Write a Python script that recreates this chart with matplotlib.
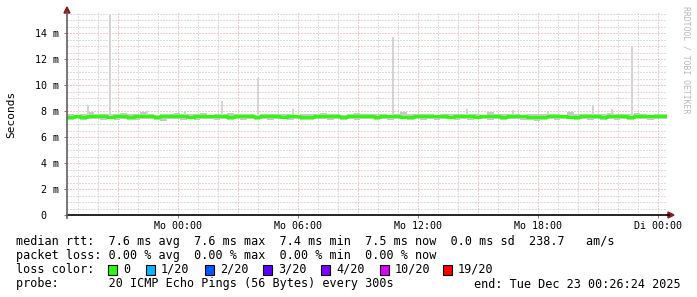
"""
SmokePing style latency graph (last 30 hours)
"""
import numpy as np
import matplotlib
matplotlib.use("Agg")
import matplotlib.pyplot as plt
from matplotlib.patches import Rectangle, Polygon

# time axis in hours relative to Mo 00:00 (Dec 22 2025)
t_start = -5.56
t_end = 24.44
step_h = 1 / 3  # 20 minute buckets

# median rtt per bucket (ms)
median = [7.58, 7.60, 7.57, 7.59, 7.62, 7.60, 7.58, 7.61, 7.59, 7.57,
          7.60, 7.62, 7.59, 7.58, 7.61, 7.60, 7.63, 7.59, 7.57, 7.60,
          7.62, 7.61, 7.59, 7.60, 7.58, 7.61, 7.63, 7.60, 7.58, 7.59,
          7.62, 7.60, 7.57, 7.59, 7.61, 7.58, 7.56, 7.60, 7.62, 7.59,
          7.61, 7.58, 7.60, 7.63, 7.61, 7.59, 7.57, 7.60, 7.62, 7.60,
          7.58, 7.56, 7.59, 7.61, 7.60, 7.62, 7.59, 7.57, 7.60, 7.61,
          7.59, 7.58, 7.60, 7.62, 7.60, 7.57, 7.59, 7.61, 7.60, 7.58,
          7.56, 7.58, 7.60, 7.59, 7.61, 7.58, 7.57, 7.60, 7.62, 7.59,
          7.58, 7.60, 7.61, 7.59, 7.57, 7.60, 7.62, 7.61, 7.59, 7.60]

# smoke envelope per bucket (ms)
smoke_hi = [7.80, 7.74, 7.78, 7.95, 7.76, 7.82, 7.75, 7.79, 7.84, 7.77,
            7.75, 7.92, 7.78, 7.74, 7.80, 7.76, 7.83, 7.75, 7.79, 7.77,
            7.85, 7.74, 7.78, 7.76, 7.88, 7.75, 7.81, 7.77, 7.74, 7.79,
            7.76, 7.82, 7.75, 7.78, 7.74, 7.80, 7.77, 7.76, 7.83, 7.75,
            7.78, 7.74, 7.79, 7.86, 7.76, 7.75, 7.80, 7.77, 7.74, 7.78,
            7.92, 7.76, 7.75, 7.79, 7.77, 7.74, 7.81, 7.76, 7.78, 7.75,
            7.80, 7.77, 7.74, 7.90, 7.76, 7.78, 7.75, 7.79, 7.74, 7.77,
            7.76, 7.82, 7.75, 7.78, 7.74, 7.95, 7.77, 7.76, 7.80, 7.75,
            7.78, 7.84, 7.76, 7.75, 7.79, 7.88, 7.77, 7.74, 7.80, 7.76]
smoke_lo = [7.32, 7.38, 7.30, 7.36, 7.40, 7.33, 7.37, 7.31, 7.38, 7.34,
            7.32, 7.37, 7.40, 7.33, 7.28, 7.36, 7.38, 7.32, 7.37, 7.33,
            7.40, 7.36, 7.31, 7.37, 7.33, 7.38, 7.32, 7.36, 7.30, 7.37,
            7.33, 7.40, 7.36, 7.32, 7.38, 7.33, 7.29, 7.37, 7.36, 7.32,
            7.38, 7.33, 7.37, 7.31, 7.36, 7.40, 7.32, 7.37, 7.33, 7.38,
            7.36, 7.30, 7.37, 7.33, 7.38, 7.32, 7.36, 7.40, 7.33, 7.37,
            7.31, 7.36, 7.38, 7.33, 7.37, 7.32, 7.40, 7.36, 7.33, 7.30,
            7.28, 7.33, 7.37, 7.32, 7.36, 7.38, 7.31, 7.37, 7.33, 7.36,
            7.32, 7.38, 7.33, 7.37, 7.31, 7.36, 7.38, 7.33, 7.37, 7.36]

# single ping outliers: time (h), top (ms)
spike_t = [-4.5, -3.4, -1.55, 0.35, 2.2, 4.0, 5.75, 10.75, 14.45, 16.75,
           18.5, 20.75, 21.7, 22.7]
spike_top = [8.46, 15.38, 7.98, 8.05, 8.77, 10.56, 8.2, 13.7, 8.15, 8.1,
             8.0, 8.5, 8.15, 13.0]

yticks = [0, 2, 4, 6, 8, 10, 12, 14]
ytick_labels = ["0  ", "2 m", "4 m", "6 m", "8 m", "10 m", "12 m", "14 m"]
xticks = [0, 6, 12, 18, 24]
xtick_labels = ["Mo 00:00", "Mo 06:00", "Mo 12:00", "Mo 18:00", "Di 00:00"]

loss_labels = ["0", "1/20", "2/20", "3/20", "4/20", "10/20", "19/20"]
loss_colors = ["#26ff00", "#00b8ff", "#0059ff", "#5e00ff", "#7e00ff",
               "#dd00ff", "#ff0000"]

mono = "DejaVu Sans Mono"
W, H = 697, 297

fig = plt.figure(figsize=(W / 100, H / 100), dpi=100)
fig.patch.set_facecolor("white")
ax = fig.add_axes([67 / W, 1 - 215 / H, 600 / W, (215 - 12.5) / H])
ax.set_facecolor("white")

ymax = (215 - 12.5) / (181.7 / 14)
ax.set_xlim(t_start, t_end)
ax.set_ylim(0, ymax)

# grid
for x in np.arange(-5, 25, 1):
    col = "#dc9a9a" if x % 3 == 0 else "#bcbcbc"
    ax.axvline(x, color=col, lw=0.72, dashes=(1, 2), zorder=1)
for y in np.arange(0.5, ymax, 0.5):
    col = "#dc9a9a" if y % 2 == 0 else "#bcbcbc"
    ax.axhline(y, color=col, lw=0.72, dashes=(1, 2), zorder=1)

# smoke
n = len(median)
edges = t_start + step_h * np.arange(n + 1)
ax.fill_between(edges, smoke_lo + [smoke_lo[-1]], smoke_hi + [smoke_hi[-1]],
                step="post", color="#c8c8c8", lw=0, zorder=2)
ax.bar(spike_t, np.array(spike_top) - 7.6, bottom=7.6, width=5 / 60,
       color="#d4d4d4", lw=0, zorder=2)

# median line
ax.step(edges, median + [median[-1]], where="post", color="#26ff00",
        lw=2.2, zorder=3)

# axes
for s in ax.spines.values():
    s.set_visible(False)
ax.set_yticks(yticks)
ax.set_yticklabels(ytick_labels, family=mono, fontsize=7.2)
ax.set_xticks(xticks)
ax.set_xticklabels(xtick_labels, family=mono, fontsize=7.2)
ax.tick_params(axis="y", which="major", length=2, width=0.7, color="#808080",
               pad=3.5)
ax.tick_params(axis="x", which="major", length=2, width=0.7, color="#808080",
               pad=2.5)

fig.add_artist(plt.Line2D([67 / W, 669 / W], [1 - 215 / H, 1 - 215 / H],
                          color="black", lw=1.2, transform=fig.transFigure))
fig.add_artist(plt.Line2D([67 / W, 67 / W], [1 - 218 / H, 1 - 12 / H],
                          color="#606060", lw=1.2, transform=fig.transFigure))
fig.add_artist(Polygon([[668 / W, 1 - 212 / H], [668 / W, 1 - 218 / H],
                        [674 / W, 1 - 215 / H]], closed=True,
                       color="#8b1a1a", transform=fig.transFigure))
fig.add_artist(Polygon([[64 / W, 1 - 13 / H], [70 / W, 1 - 13 / H],
                        [67 / W, 1 - 7 / H]], closed=True,
                       color="#8b1a1a", transform=fig.transFigure))

fig.text(11 / W, 1 - 114 / H, "Seconds", rotation=90, family=mono,
         fontsize=8, ha="center", va="center")
fig.text(686 / W, 1 - 60 / H, "RRDTOOL / TOBI OETIKER", rotation=270,
         family=mono, fontsize=5.9, ha="center", va="center", color="#b8b8b8")

# legend block
fs = 8.5
fig.text(16 / W, 1 - 241 / H,
         "median rtt:  7.6 ms avg  7.6 ms max  7.4 ms min  7.5 ms now  "
         "0.0 ms sd  238.7   am/s", family=mono, fontsize=fs, va="center")
fig.text(16 / W, 1 - 256 / H,
         "packet loss: 0.00 % avg  0.00 % max  0.00 % min  0.00 % now",
         family=mono, fontsize=fs, va="center")
fig.text(16 / W, 1 - 269.5 / H, "loss color:", family=mono, fontsize=fs,
         va="center")
box_x = [108, 146, 205, 263, 321, 380, 443]
for bx, lab, col in zip(box_x, loss_labels, loss_colors):
    fig.add_artist(Rectangle((bx / W, 1 - 274.5 / H), 9 / W, 10 / H,
                             facecolor=col, edgecolor="black", lw=0.8,
                             transform=fig.transFigure))
    fig.text((bx + 15) / W, 1 - 269.5 / H, lab, family=mono, fontsize=fs,
             va="center")
fig.text(16 / W, 1 - 284 / H,
         "probe:       20 ICMP Echo Pings (56 Bytes) every 300s",
         family=mono, fontsize=fs, va="center")
fig.text(681 / W, 1 - 284 / H, "end: Tue Dec 23 00:26:24 2025",
         family=mono, fontsize=fs, va="center", ha="right")

plt.savefig("out.png", dpi=100)
